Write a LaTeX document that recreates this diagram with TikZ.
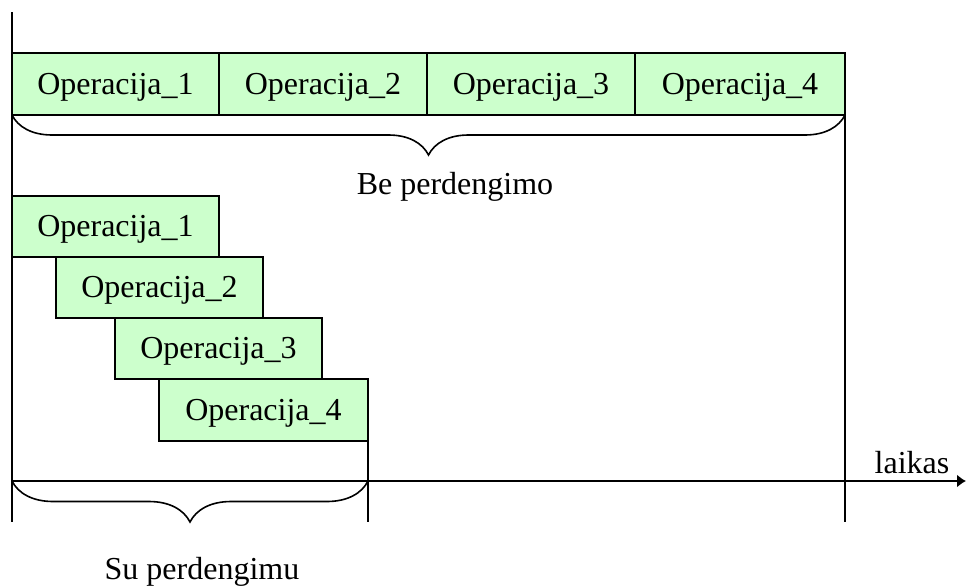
\documentclass[tikz,border=0pt]{standalone}
\usepackage{fontspec}
\setmainfont{Liberation Serif}
\usetikzlibrary{arrows.meta,decorations.pathreplacing}
\definecolor{opgreen}{HTML}{CCFFCC}
\begin{document}
\begin{tikzpicture}[x=1pt,y=-1pt,line width=1.6pt,
  txt/.style={font=\fontsize{32}{38}\selectfont},
  opbox/.style={txt,draw,fill=opgreen,rectangle,inner sep=0pt,outer sep=0pt,
    minimum height=62pt,text height=26pt,text depth=6pt,anchor=north west},
  caption/.style={txt,inner sep=0pt,anchor=base},
  curlybrace/.style={decorate,decoration={brace,mirror,amplitude=#1}}]
\useasboundingbox (0,0) rectangle (966,587);

% axes
\coordinate (ytop) at (12,12);
\coordinate (ybot) at (12,522);
\coordinate (xstart) at (12,481);
\coordinate (xend) at (966,481);
\draw (ytop) -- (ybot);
\draw[-{Latex[length=9pt,width=13pt]}] (xstart) -- (xend);

% sequential operations
\node[opbox,minimum width=207pt] (t1) at (12,53) {Operacija\_1};
\node[opbox,minimum width=208pt] (t2) at (219,53) {Operacija\_2};
\node[opbox,minimum width=208pt] (t3) at (427,53) {Operacija\_3};
\node[opbox,minimum width=210pt] (t4) at (635,53) {Operacija\_4};

% overlapped operations
\node[opbox,minimum width=207pt,minimum height=61pt] (s1) at (12,196) {Operacija\_1};
\node[opbox,minimum width=207pt,minimum height=61pt] (s2) at (56,257) {Operacija\_2};
\node[opbox,minimum width=207pt,minimum height=61pt] (s3) at (115,318) {Operacija\_3};
\node[opbox,minimum width=209pt,minimum height=62pt] (s4) at (159,379) {Operacija\_4};

% end markers
\coordinate (e1) at (845,522);
\coordinate (e2) at (368,522);
\draw (t4.south east) -- (e1);
\draw (s4.south east) -- (e2);

% braces
\draw[curlybrace=40pt] (t1.south west) -- (t4.south east);
\draw[curlybrace=41pt] (xstart) -- (s4.south east |- xstart);

% captions
\node[caption] (be) at (455,194) {Be perdengimo};
\node[caption] (laikas) at (912,473) {laikas};
\node[caption] (su) at (202,579) {Su perdengimu};
\end{tikzpicture}
\end{document}
